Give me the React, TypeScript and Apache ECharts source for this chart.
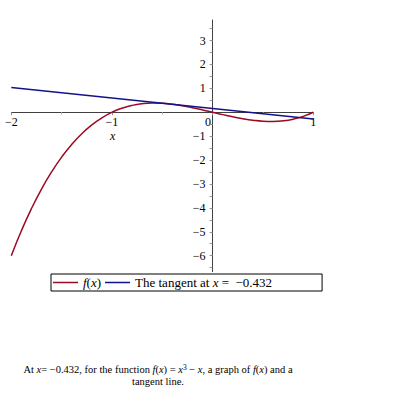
import React, { useEffect, useRef } from "react";
import * as echarts from "echarts";

// f(x) = x^3 - x, values read at sample points
const curveX = [-2.0, -1.9, -1.8, -1.7, -1.6, -1.5, -1.4, -1.3, -1.2, -1.1, -1.0, -0.9, -0.8, -0.7, -0.6, -0.5, -0.4, -0.3, -0.2, -0.1, 0.0, 0.1, 0.2, 0.3, 0.4, 0.5, 0.6, 0.7, 0.8, 0.9, 1.0];
const curveY = [-6.0, -4.959, -4.032, -3.213, -2.496, -1.875, -1.344, -0.897, -0.528, -0.231, 0.0, 0.171, 0.288, 0.357, 0.384, 0.375, 0.336, 0.273, 0.192, 0.099, 0.0, -0.099, -0.192, -0.273, -0.336, -0.375, -0.384, -0.357, -0.288, -0.171, 0.0];
const tangentX = [-2.0, 1.0];
const tangentY = [1.041, -0.279];
const touchPoint = [-0.432, 0.351];
const xTickLabels = [-2, -1, 1];
const yTickLabels = [-6, -5, -4, -3, -2, -1, 1, 2, 3];
const yTicks = [-6.5, -6, -5.5, -5, -4.5, -4, -3.5, -3, -2.5, -2, -1.5, -1, -0.5, 0.5, 1, 1.5, 2, 2.5, 3, 3.5];

const SERIF = "Liberation Serif";
const RED = "#9a0a24";
const BLUE = "#12128a";
const AXIS = "#404040";

// grid geometry
const G_LEFT = 11.3;
const G_RIGHT_X = 313.3;
const G_TOP = 20;
const G_BOTTOM_Y = 271.7;
const X_MIN = -2, X_MAX = 1, Y_MIN = -6.67, Y_MAX = 3.86;
const zeroX = G_LEFT + ((0 - X_MIN) / (X_MAX - X_MIN)) * (G_RIGHT_X - G_LEFT);
const zeroY = G_TOP + ((Y_MAX - 0) / (Y_MAX - Y_MIN)) * (G_BOTTOM_Y - G_TOP);

const fmt = (v: number) => (v < 0 ? "\u2212" + Math.abs(v) : String(v));

export default function App() {
  const ref = useRef<HTMLDivElement>(null);
  useEffect(() => {
    if (!ref.current) return;
    const chart = echarts.init(ref.current, null, { renderer: "svg" });
    chart.setOption({
      animation: false,
      backgroundColor: "#ffffff",
      textStyle: { fontFamily: SERIF },
      grid: { left: G_LEFT, right: 395 - G_RIGHT_X, top: G_TOP, bottom: 395 - G_BOTTOM_Y },
      xAxis: {
        type: "value",
        min: X_MIN,
        max: X_MAX,
        interval: 1,
        position: "bottom",
        offset: -(G_BOTTOM_Y - zeroY),
        axisLine: { onZero: false, lineStyle: { color: AXIS, width: 1 } },
        axisTick: { show: true, length: 3, lineStyle: { color: "#909090" } },
        minorTick: { show: true, splitNumber: 2, length: 2, lineStyle: { color: "#b0b0b0" } },
        axisLabel: {
          customValues: xTickLabels,
          formatter: (v: number) => fmt(v),
          fontFamily: SERIF,
          fontSize: 12,
          color: "#000",
          margin: 4,
        },
        splitLine: { show: false },
      },
      yAxis: {
        type: "value",
        min: Y_MIN,
        max: Y_MAX,
        position: "left",
        offset: -(zeroX - G_LEFT),
        axisLine: { onZero: false, lineStyle: { color: AXIS, width: 1 } },
        axisTick: { show: true, length: 3, customValues: yTicks, lineStyle: { color: "#909090" } },
        axisLabel: {
          customValues: yTickLabels,
          formatter: (v: number) => fmt(v),
          fontFamily: SERIF,
          fontSize: 12,
          color: "#000",
          margin: 7,
        },
        splitLine: { show: false },
      },
      legend: {
        left: 51,
        top: 274,
        orient: "horizontal",
        data: ["f(x)", "tangent"],
        icon: "rect",
        borderColor: "#000",
        borderWidth: 1,
        padding: [2, 50, 2, 2],
        itemGap: 4,
        itemWidth: 25,
        itemHeight: 1.5,
        formatter: (name: string) =>
          name === "f(x)"
            ? "{i|f}{n|(}{i|x}{n|)}"
            : "{n|The tangent at }{i|x}{n| =  \u22120.432}",
        textStyle: {
          fontFamily: SERIF,
          rich: {
            i: { fontFamily: SERIF, fontStyle: "italic", fontSize: 13, color: "#000", height: 14 },
            n: { fontFamily: SERIF, fontSize: 13, color: "#000", height: 14 },
          },
        },
      },
      series: [
        {
          name: "f(x)",
          type: "line",
          data: curveX.map((x, i) => [x, curveY[i]]),
          smooth: true,
          symbol: "none",
          lineStyle: { color: RED, width: 1.5 },
          itemStyle: { color: RED },
        },
        {
          name: "tangent",
          type: "line",
          data: tangentX.map((x, i) => [x, tangentY[i]]),
          symbol: "none",
          lineStyle: { color: BLUE, width: 1.5 },
          itemStyle: { color: BLUE },
        },
        {
          name: "point",
          type: "scatter",
          data: [touchPoint],
          symbol: "emptyCircle",
          symbolSize: 4,
          itemStyle: { color: "#fff", borderColor: BLUE, borderWidth: 1 },
        },
      ],
      graphic: [
        {
          type: "text",
          left: 205,
          top: 116,
          style: { text: "0", fontFamily: SERIF, fontSize: 12, fill: "#000" },
        },
        {
          type: "text",
          left: 110,
          top: 130,
          style: { text: "x", fontFamily: SERIF, fontStyle: "italic", fontSize: 12, fill: "#000" },
        },
        {
          type: "text",
          x: 158,
          y: 363,
          style: {
            text:
              "{n|At }{i|x}{n|= \u22120.432, for the function }{i|f}{n|(}{i|x}{n|) = }{i|x}{s|3}{n| \u2212 }{i|x}{n|, a graph of }{i|f}{n|(}{i|x}{n|) and a}\n{n|tangent line.}",
            align: "center",
            fontFamily: SERIF,
            lineHeight: 12,
            rich: {
              n: { fontFamily: SERIF, fontSize: 10.5, fill: "#000", lineHeight: 12 },
              i: { fontFamily: SERIF, fontStyle: "italic", fontSize: 10.5, fill: "#000", lineHeight: 12 },
              s: { fontFamily: SERIF, fontSize: 7.5, fill: "#000", verticalAlign: "top", lineHeight: 12 },
            },
          },
        },
      ],
    });
    return () => chart.dispose();
  }, []);
  return (
    <div
      ref={ref}
      style={{ position: "absolute", left: 0, top: 0, width: 395, height: 395, background: "#fff" }}
    />
  );
}
